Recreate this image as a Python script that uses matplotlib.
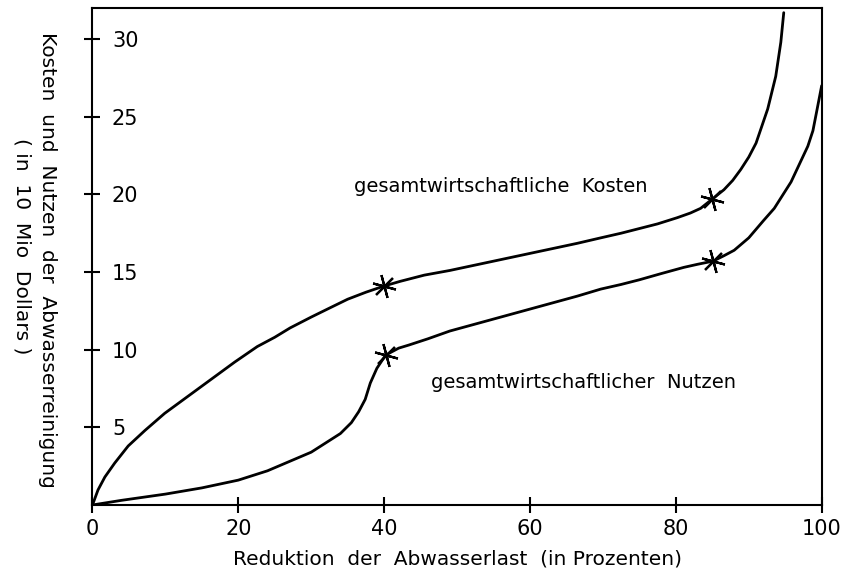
import numpy as np
import matplotlib
matplotlib.use('Agg')
import matplotlib.pyplot as plt

plt.rcParams['font.family'] = ['DejaVu Sans']

# gesamtwirtschaftliche Kosten
kosten_x = [0, 0.76, 1.7, 3.05, 4.9, 7.2, 9.9, 13.1, 16.3, 19.5, 22.6, 25, 27.1, 30,
            32.6, 35, 37.5, 40, 42.2, 45.5, 49, 52.5, 56, 59.5, 63, 66.5, 69.7, 72.5,
            75, 77.5, 80.2, 82, 83.4, 85.0, 86.6, 87.8, 88.9, 90.0, 91.0, 92.6, 93.7, 94.4, 94.8]
kosten_y = [0, 0.97, 1.8, 2.7, 3.8, 4.8, 5.9, 7.0, 8.1, 9.2, 10.2, 10.8, 11.4, 12.1,
            12.7, 13.25, 13.7, 14.1, 14.4, 14.8, 15.1, 15.45, 15.8, 16.15, 16.5, 16.85, 17.2, 17.5,
            17.8, 18.1, 18.5, 18.8, 19.1, 19.7, 20.3, 20.9, 21.6, 22.4, 23.3, 25.5, 27.6, 29.8, 31.7]

# gesamtwirtschaftlicher Nutzen
nutzen_x = [0, 4, 10, 15, 20, 24, 27, 30, 32, 34, 35.5, 36.5, 37.4, 38.1, 39.0,
            40.2, 42.0, 43.4, 46, 49, 52.5, 56, 59.5, 63, 66.5, 69.7, 72.5, 75, 78, 81.1,
            83, 85.1, 86.6, 88, 90, 92, 93.5, 95.8, 96.9, 98.1, 98.8, 99.3, 100]
nutzen_y = [0, 0.3, 0.7, 1.1, 1.6, 2.2, 2.8, 3.4, 4.0, 4.6, 5.3, 6.0, 6.8, 7.85, 8.8,
            9.65, 10.1, 10.3, 10.7, 11.2, 11.65, 12.1, 12.55, 13.0, 13.45, 13.9, 14.2, 14.5, 14.9, 15.3,
            15.5, 15.7, 16.05, 16.4, 17.2, 18.3, 19.1, 20.8, 21.9, 23.1, 24.1, 25.3, 27.0]

# markierte Punkte
mark_x = [40, 85.0, 40.2, 85.1]
mark_y = [14.1, 19.7, 9.65, 15.7]

xticks = [0, 20, 40, 60, 80, 100]
yticks = [5, 10, 15, 20, 25, 30]

fig = plt.figure(figsize=(8.43, 5.85), dpi=100)
ax = fig.add_axes([0.1097, 0.1368, 0.8650, 0.8495])

ax.plot(kosten_x, kosten_y, color='black', lw=2.0, solid_capstyle='round', solid_joinstyle='round')
ax.plot(nutzen_x, nutzen_y, color='black', lw=2.0, solid_capstyle='round', solid_joinstyle='round')
ax.plot(mark_x, mark_y, ls='none', marker=(6, 2, 15), ms=17, mec='black', mew=1.6)

ax.set_xlim(0, 100)
ax.set_ylim(0, 32)
ax.set_xticks(xticks)
ax.set_yticks(yticks)
for s in ax.spines.values():
    s.set_linewidth(1.5)

ax.tick_params(axis='both', direction='inout', length=12, width=1.5, labelsize=15)
ax.tick_params(axis='x', pad=4)
ax.tick_params(axis='y', pad=-20)
for lab in ax.get_yticklabels():
    lab.set_horizontalalignment('left')

ax.text(35.8, 20.5, 'gesamtwirtschaftliche  Kosten', fontsize=14, va='center')
ax.text(46.4, 7.9, 'gesamtwirtschaftlicher  Nutzen', fontsize=14, va='center')

ax.set_xlabel('Reduktion  der  Abwasserlast  (in Prozenten)', fontsize=14.5, labelpad=8)
fig.text(0.056, 0.555, 'Kosten  und  Nutzen  der  Abwasserreinigung',
         rotation=-90, fontsize=14.5, ha='center', va='center')
fig.text(0.026, 0.58, '( in  10  Mio  Dollars )',
         rotation=-90, fontsize=14.5, ha='center', va='center')

fig.savefig('out.png', dpi=100)
